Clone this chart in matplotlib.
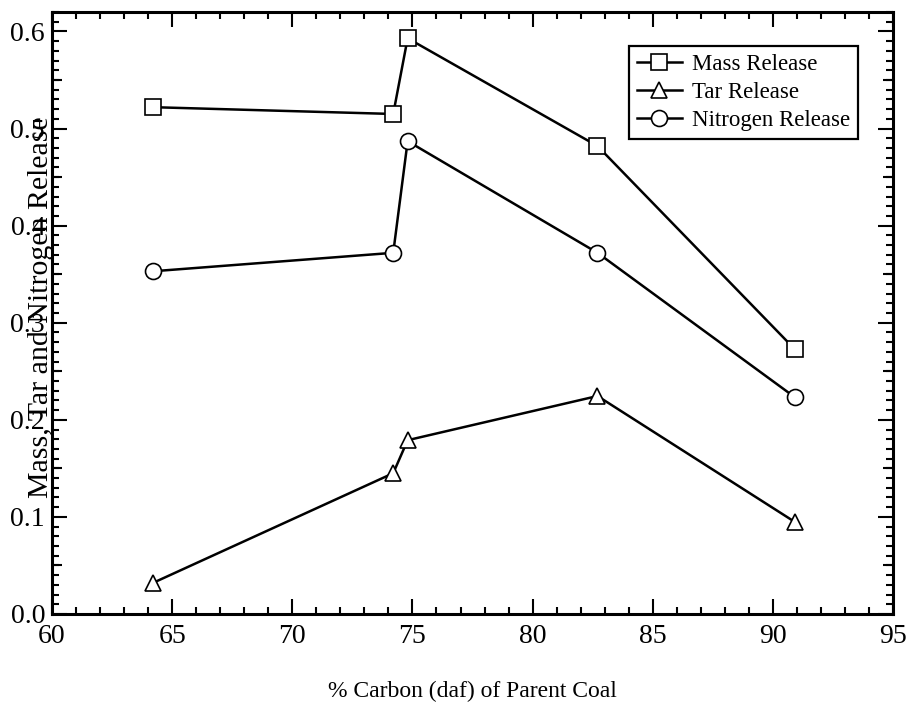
import matplotlib
matplotlib.use("Agg")
import matplotlib.pyplot as plt
from matplotlib.ticker import MultipleLocator, FixedLocator

plt.rcParams['font.family'] = ['Liberation Serif', 'DejaVu Serif']
plt.rcParams['mathtext.fontset'] = 'stix'

# % carbon (daf) of each parent coal
carbon = [64.2, 74.2, 74.8, 82.7, 90.9]
mass_release = [0.522, 0.515, 0.593, 0.482, 0.273]
tar_release = [0.032, 0.145, 0.179, 0.2245, 0.095]
nitrogen_release = [0.353, 0.372, 0.487, 0.372, 0.2235]

fig = plt.figure(figsize=(9.08, 7.08), dpi=100)
ax = fig.add_axes([0.0573, 0.1328, 0.9262, 0.8502])

style = dict(color='black', lw=1.8, mfc='white', mec='black', mew=1.2)
ax.plot(carbon, mass_release, marker='s', ms=11, label='Mass Release', **style)
ax.plot(carbon, tar_release, marker='^', ms=12, label='Tar Release', **style)
ax.plot(carbon, nitrogen_release, marker='o', ms=11.5, label='Nitrogen Release', **style)

ax.set_xlim(60, 95)
ax.set_ylim(0, 0.62)
ax.xaxis.set_major_locator(MultipleLocator(5))
ax.xaxis.set_minor_locator(MultipleLocator(1))
ax.yaxis.set_major_locator(FixedLocator([0.0, 0.1, 0.2, 0.3, 0.4, 0.5, 0.6]))
ax.yaxis.set_minor_locator(MultipleLocator(0.01))
ax.set_yticklabels(['0.0', '0.1', '0.2', '0.3', '0.4', '0.5', '0.6'])

for s in ax.spines.values():
    s.set_linewidth(2.2)
ax.tick_params(which='both', direction='in', top=True, right=True, width=1.5,
               labelsize=20)
ax.tick_params(which='major', length=11)
ax.tick_params(which='minor', length=5)
ax.tick_params(axis='x', which='major', pad=7)
ax.tick_params(axis='y', which='major', pad=5)

# slightly longer ticks at the half-way marks on the y axis
for side in ('left', 'right'):
    sec = ax.secondary_yaxis(side)
    sec.set_yticks([0.05, 0.15, 0.25, 0.35, 0.45, 0.55])
    sec.tick_params(direction='in', length=7, width=1.5, labelleft=False,
                    labelright=False)
    sec.spines[side].set_visible(False)

ax.set_xlabel('% Carbon (daf) of Parent Coal', fontsize=17)
ax.xaxis.set_label_coords(0.5, -0.128)
ax.xaxis.label.set_va('center')
ax.set_ylabel('Mass, Tar and Nitrogen Release', fontsize=21.5)
ax.yaxis.set_label_coords(-0.013, 0.51)
ax.yaxis.label.set_va('center')

leg = ax.legend(loc='upper right', bbox_to_anchor=(0.958, 0.9435),
                borderaxespad=0, fontsize=16.5, fancybox=False, framealpha=1,
                edgecolor='black', handlelength=2.0, handletextpad=0.4,
                labelspacing=0.3, borderpad=0.35)
leg.get_frame().set_linewidth(1.6)

fig.savefig('out.png', dpi=100)
